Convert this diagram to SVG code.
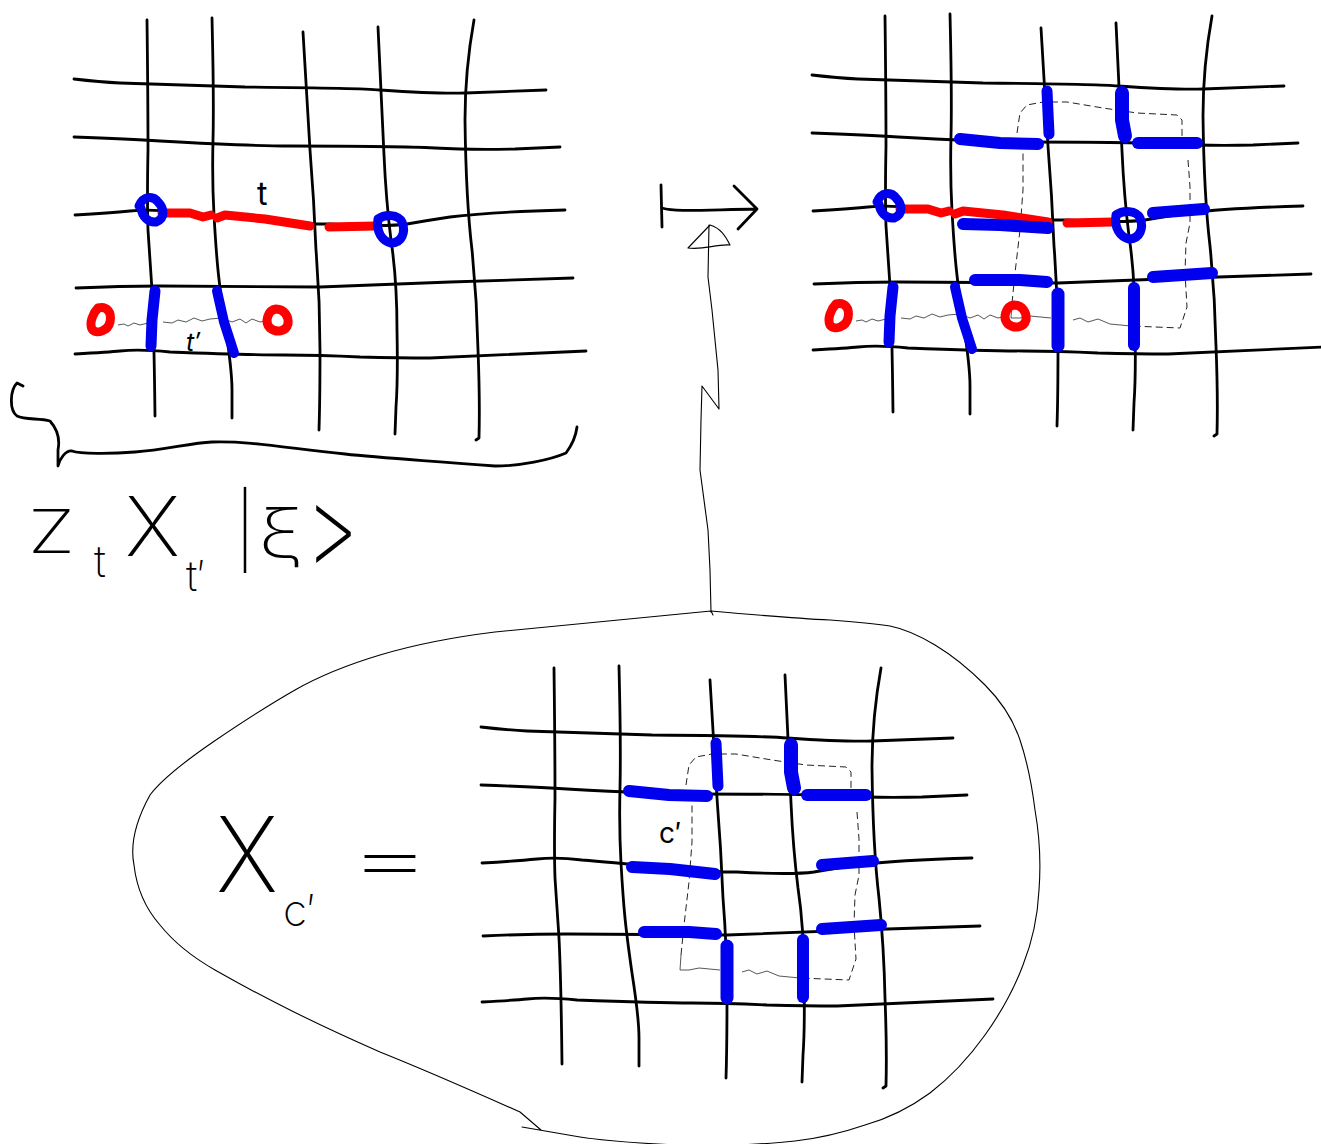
<svg xmlns="http://www.w3.org/2000/svg" width="1321" height="1144" viewBox="0 0 1321 1144">
<style>
.g{fill:none;stroke:#000;stroke-width:2.8;stroke-linecap:round;stroke-linejoin:round}
.b{fill:none;stroke:#0000ee;stroke-width:12;stroke-linecap:round;stroke-linejoin:round}
.r{fill:none;stroke:#f00;stroke-width:9;stroke-linecap:round;stroke-linejoin:round}
.d{fill:none;stroke:#222;stroke-width:1;stroke-dasharray:7 4}
.s{fill:none;stroke:#444;stroke-width:.9;stroke-linejoin:round}
.k{fill:none;stroke:#000;stroke-width:1.1;stroke-linejoin:round;stroke-linecap:round}
.a{fill:none;stroke:#000;stroke-width:2.8;stroke-linejoin:round;stroke-linecap:round}
text{font-family:"Inter","Liberation Sans",sans-serif;font-weight:200;fill:#000}
.m{font-weight:400}
</style>
<defs>
<g id="grid" class="g">
<path d="M74,79 Q100,82 120,83 Q210,86 245,87 Q360,88 380,90 Q440,94 465,93 Q520,91 546,90"/>
<path d="M74,137 Q130,139 160,141 Q250,146 290,146 Q400,146 435,148 Q470,150 515,149 L560,147"/>
<path d="M75,215 Q110,213 130,211 Q150,209 175,212 Q200,214 255,219 Q310,224 320,224 L330,224 Q385,227 407,224 Q430,220 450,217 Q490,212 565,210"/>
<path d="M76,288 Q120,286 160,286 L320,287 Q400,284 450,282 L573,278"/>
<path d="M75,354 Q110,352 120,351 Q140,349 170,352 Q250,355 285,355 Q320,355 360,357 Q400,358 430,358 Q500,355 586,351"/>
<path d="M147,20 Q148,100 148,150 Q147,200 148,230 Q150,260 152,290 Q154,330 155,416"/>
<path d="M212,18 Q214,100 213,140 Q212,180 214,215 Q216,250 218,270 Q220,290 225,325 Q232,370 232,390 L232,418"/>
<path d="M303,32 Q307,100 310,150 Q314,200 316,250 Q320,300 320,350 Q320,400 319,430"/>
<path d="M378,27 Q382,110 384,155 Q386,200 391,240 Q397,280 397,330 Q398,380 396,407 L395,434"/>
<path d="M474,20 Q465,70 465,120 Q466,200 472,250 Q477,300 478,350 Q480,400 479,438 L476,440"/>
</g>
<g id="mob">
<path class="s" d="M118,325 L124,324 128,326 134,323 140,325 148,323 M163,322 L172,323 178,320 186,322 194,318 202,321 210,319 222,318 232,322 240,319 246,323 252,319 260,322 270,320"/>
<path class="r" d="M162,213 L190,213 203,217 211,215 M217,218 L225,215 265,219 310,226 M329,227 L375,226"/>
<path class="r" d="M98,308 C107,306 112,312 110,322 C108,331 96,335 92,329 C89,323 93,313 98,308 Z"/>
<path class="r" d="M276,309 C284,309 289,316 288,324 C286,332 276,333 270,328 C264,322 268,310 276,309 Z"/>
<path class="b" style="stroke-width:11" d="M155,291 L152,320 151,346"/>
<path class="b" style="stroke-width:10" d="M217,291 L224,322 234,353"/>
<path class="b" style="stroke-width:9" d="M139,206 C143,196 153,195 158,202 C164,208 166,218 156,222 C148,223 142,216 141,208"/>
<path class="b" style="stroke-width:9" d="M378,219 C385,214 398,214 402,222 C406,232 402,243 391,243 C382,241 376,232 378,219 Z"/>
</g>
<g id="cyc">
<path class="d" d="M1012,303 L1015,273 1020,230 1023,190 1023,150 M1017,133 L1020,113 1027,105 1043,102 1067,102 1103,108 1137,113 1177,115 1182,120 1182,137 M1188,160 L1190,187 1190,223 1186,243 1185,273 1187,307 1180,328 1131,326"/>
<path class="s" d="M1012,303 L1011,318 1020,318 1030,316 1051,318 M1073,320 L1080,318 1088,322 1098,319 1110,324 1131,326"/>
<path class="b" style="stroke-width:11" d="M1047,91 L1049,134"/>
<path class="b" style="stroke-width:14" d="M1122,93 L1122,120 1125,136"/>
<path class="b" d="M960,139 L1000,143 1038,144"/>
<path class="b" d="M1138,143 L1197,143"/>
<path class="b" d="M1153,213 L1204,209"/>
<path class="b" d="M1153,277 L1212,273"/>
<path class="b" d="M975,280 L1020,280 1047,282"/>
<path class="b" style="stroke-width:13" d="M1058,294 L1058,346"/>
<path class="b" d="M1134,288 L1134,345"/>
</g>
</defs>

<g id="grid-left"><use href="#grid"/><use href="#mob"/>
<text class="m" x="257" y="205" font-size="32">t</text>
<text class="m" x="186" y="351" font-size="25" font-style="italic">t′</text></g>

<g id="grid-right"><use href="#grid" transform="translate(738,-4)"/><use href="#cyc"/><use href="#mob" transform="translate(738,-4)"/>
<path class="b" d="M963,224 L1000,225 1048,228"/></g>

<g id="grid-bottom"><use href="#grid" transform="translate(407,648)"/><use href="#cyc" transform="translate(-331,652)"/>
<path class="b" d="M632,867 L670,869 715,874"/>
<text class="m" x="659" y="843" font-size="28">c′</text></g>

<g id="brace"><path class="a" d="M23,386 L17,383 C10,390 9,410 17,416 C25,420 40,418 50,421 C58,430 60,440 58,450 L58,466 C60,458 66,450 72,451 C80,454 110,454 135,452 C165,450 190,443 212,442 C250,441 280,447 345,454 C380,458 420,460 495,466 C520,466 550,460 566,453 C572,445 576,435 577,427"/></g>

<g id="formula">
<text x="28" y="553" font-size="60" textLength="47" lengthAdjust="spacingAndGlyphs">Z</text>
<text x="94" y="577" font-size="44">t</text>
<text x="125" y="556" font-size="82" textLength="55" lengthAdjust="spacingAndGlyphs">X</text>
<text x="186" y="591" font-size="42">t′</text>
<text x="236" y="556" font-size="72" textLength="18" lengthAdjust="spacingAndGlyphs">|</text>
<text x="258" y="558" font-size="70" textLength="46" lengthAdjust="spacingAndGlyphs">ξ</text>
<text x="305" y="565" font-size="110" textLength="54" lengthAdjust="spacingAndGlyphs">&gt;</text>
</g>

<g id="mapsto" class="a">
<path d="M661,185 L662,227"/>
<path d="M662,208 C675,212 700,210 757,209 M734,186 L757,209 738,229"/>
</g>

<g id="connector">
<path class="k" d="M688,248 L710,225 C720,228 725,235 730,245 C715,244 705,250 688,248 Z"/>
<path class="k" d="M709,225 L708,277 712,310 718,370 719,409 702,386 701,420 700,470 708,530 710,570 711,612"/>
<path class="k" d="M711,611 Q790,618 830,620 Q870,623 890,626 Q910,630 935,645 Q960,660 985,685 Q1010,710 1020,740 Q1030,770 1035,810 Q1042,850 1039,890 Q1037,930 1023,965 Q1010,1000 985,1035 Q960,1070 930,1093 Q900,1115 865,1125 Q830,1137 795,1141 Q760,1145 700,1146 Q620,1143 580,1137 L522,1127 M541,1130 L520,1112 Q430,1072 380,1052 Q330,1030 290,1010 Q250,990 215,970 Q180,950 160,925 Q138,900 134,865 Q128,835 150,795 Q165,775 213,742 Q260,710 295,690 Q330,670 380,655 Q430,640 495,632 Q600,622 711,611 L713,615"/>
</g>

<g id="lhs">
<text x="216" y="892" font-size="104" textLength="62" lengthAdjust="spacingAndGlyphs">X</text>
<text x="283" y="926" font-size="44">c′</text>
<text x="346" y="884" font-size="72" textLength="88" lengthAdjust="spacingAndGlyphs">=</text>
</g>
</svg>
